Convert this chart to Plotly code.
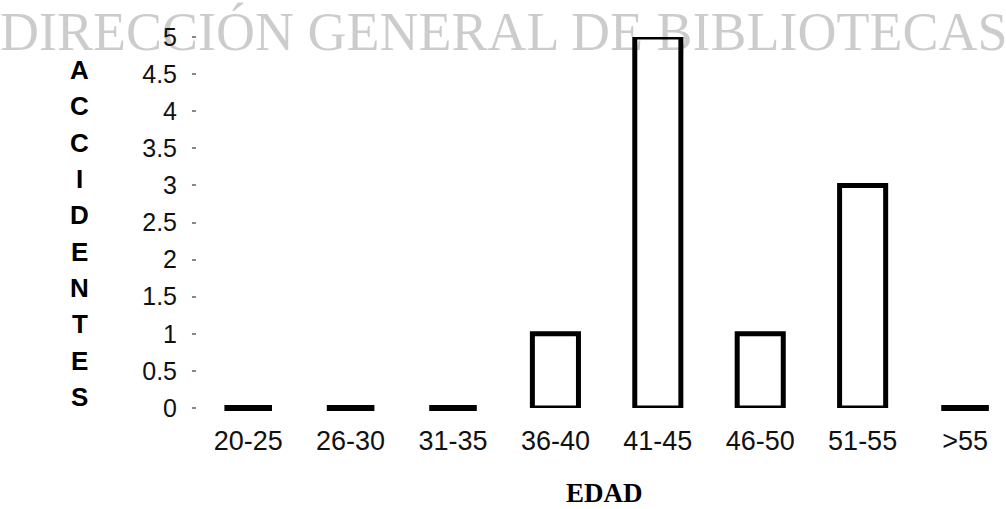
import plotly.graph_objects as go

# Accidents by age group
edades = ["20-25", "26-30", "31-35", "36-40", "41-45", "46-50", "51-55", ">55"]
accidentes = [0, 0, 0, 1, 5, 1, 3, 0]

y_ticks = [0, 0.5, 1, 1.5, 2, 2.5, 3, 3.5, 4, 4.5, 5]
y_title = "ACCIDENTES"
x_title = "EDAD"
watermark = "DIRECCIÓN GENERAL DE BIBLIOTECAS"

W, H = 1006, 509
ML, MR, MT, MB = 197, 0, 37, 101

fig = go.Figure()
fig.add_trace(go.Bar(
    x=edades,
    y=accidentes,
    width=0.45,
    marker=dict(color="white", line=dict(color="black", width=5)),
    cliponaxis=False,
    showlegend=False,
))

# empty groups still get a flat heavy outline on the baseline
zero_x = [e for e, v in zip(edades, accidentes) if v == 0]
zero_y = [v for v in accidentes if v == 0]
fig.add_trace(go.Scatter(
    x=zero_x, y=zero_y, mode="markers",
    marker=dict(symbol="line-ew", size=34, line=dict(color="black", width=6)),
    cliponaxis=False, showlegend=False, hoverinfo="skip",
))

# stacked vertical axis title, one letter per line
plot_h = H - MT - MB
top_px, bottom_px = 70, 397
step = (bottom_px - top_px) / (len(y_title) - 1)
for i, ch in enumerate(y_title):
    py = top_px + i * step
    fig.add_annotation(
        text=ch, xref="paper", yref="paper",
        x=(80 - ML) / (W - ML - MR), y=(H - MB - py) / plot_h,
        xanchor="center", yanchor="middle", showarrow=False,
        font=dict(family="Liberation Sans, Arial", size=26, color="black", weight="bold"),
    )

# watermark across the top
fig.add_annotation(
    text=watermark, xref="paper", yref="paper",
    x=(W / 2 - ML) / (W - ML - MR), y=(H - MB - 32) / plot_h,
    xanchor="center", yanchor="middle", showarrow=False,
    font=dict(family="Liberation Serif, Times New Roman", size=54, color="rgba(0,0,0,0.2)"),
)

# axis title below the categories
fig.add_annotation(
    text=x_title, xref="paper", yref="paper",
    x=(604 - ML) / (W - ML - MR), y=(H - MB - 493) / plot_h,
    xanchor="center", yanchor="middle", showarrow=False,
    font=dict(family="Liberation Serif, Times New Roman", size=27, color="black", weight="bold"),
)

fig.update_layout(
    width=W, height=H,
    margin=dict(l=ML, r=MR, t=MT, b=MB, pad=0),
    paper_bgcolor="white", plot_bgcolor="white",
    xaxis=dict(
        type="category", range=[-0.5, 7.4],
        showgrid=False, zeroline=False, showline=False,
        ticks="", ticklabelstandoff=14,
        tickfont=dict(family="Liberation Sans, Arial", size=27, color="#111"),
    ),
    yaxis=dict(
        range=[0, 5], tickvals=y_ticks,
        ticktext=[f"{v:g}" for v in y_ticks],
        showgrid=False, zeroline=False, showline=False,
        ticks="outside", ticklen=4, tickwidth=1.5, tickcolor="#888",
        ticklabelstandoff=10,
        tickfont=dict(family="Liberation Sans, Arial", size=25, color="#111"),
    ),
)

fig.write_html("out.html")
